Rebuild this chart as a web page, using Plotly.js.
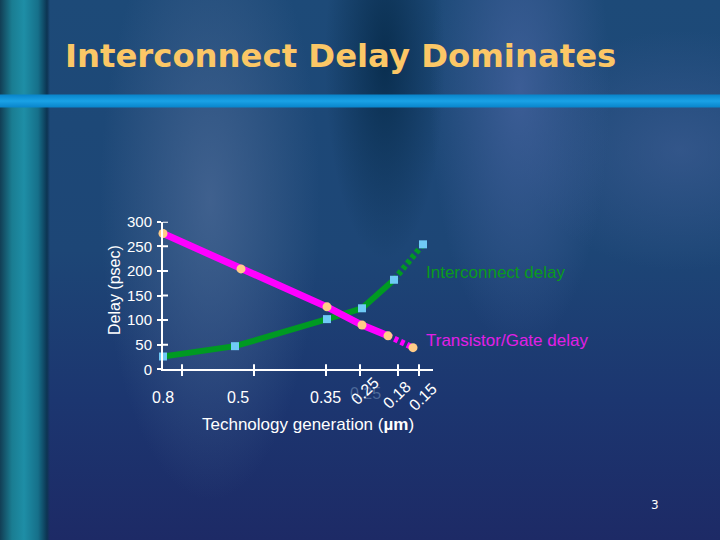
<!DOCTYPE html>
<html>
<head>
<meta charset="utf-8">
<script src="https://cdn.plot.ly/plotly-3.0.1.min.js"></script>
<style>
html, body { margin:0; padding:0; width:720px; height:540px; overflow:hidden; }
body {
  background:
    linear-gradient(to bottom, rgba(0,0,0,0) 94px, #0a86cc 95px, #1aa2e6 101px, #0a86cc 107px, rgba(0,0,0,0) 108px),
    linear-gradient(to right, #123e55 0px, #1a7d92 12px, #1e8ea6 24px, #16708a 38px, #0c3452 47px, rgba(0,0,0,0) 50px),
    radial-gradient(ellipse 90px 260px at 520px 90px, rgba(70,100,160,0.75), rgba(70,100,160,0)),
    radial-gradient(ellipse 110px 300px at 210px 200px, rgba(75,105,150,0.75), rgba(75,105,150,0)),
    radial-gradient(ellipse 60px 200px at 385px 60px, rgba(5,40,70,0.8), rgba(5,40,70,0)),
    radial-gradient(ellipse 160px 120px at 680px 150px, rgba(65,95,150,0.6), rgba(65,95,150,0)),
    linear-gradient(to bottom, #1d4a78 0px, #1d4676 250px, #1c3670 400px, #1d2a66 540px);
  background-repeat: no-repeat;
}
#chart { width:720px; height:540px; }
</style>
</head>
<body>
<div id="chart"></div>
<script>
// ---- data ----
var nodeLabels = ['0.8', '0.5', '0.35', '0.25', '0.18', '0.15'];
// relative positions of each technology generation along the drawn axis (arbitrary units)
var labelPos = [0, 75, 162, 201, 233, 259];
var tickPos = [19, 91, 163, 197, 235, 256];
var interconnectPos = [0, 72, 164, 199, 231, 260];
var gatePos = [0, 78, 164, 199, 225, 250];
var interconnectDelay = [26, 47, 102, 124, 182, 254];
var gateDelay = [276, 204, 127, 90, 68, 44];
var yTicks = [0, 50, 100, 150, 200, 250, 300];

var W = 720, H = 540;
function px(x) { return x / W; }
function py(y) { return 1 - y / H; }

var GREEN = '#009a22', MAGENTA = '#ff00ff', SQ = '#6fcaf6', CIRC = '#ffcc88';
var dotted = '4px,3px';

var traces = [
  {x: interconnectPos.slice(0, 5), y: interconnectDelay.slice(0, 5), mode: 'lines',
   line: {color: GREEN, width: 6}, cliponaxis: false, hoverinfo: 'skip'},
  {x: interconnectPos.slice(4), y: interconnectDelay.slice(4), mode: 'lines',
   line: {color: GREEN, width: 6, dash: dotted}, cliponaxis: false, hoverinfo: 'skip'},
  {x: gatePos.slice(0, 5), y: gateDelay.slice(0, 5), mode: 'lines',
   line: {color: MAGENTA, width: 7}, cliponaxis: false, hoverinfo: 'skip'},
  {x: gatePos.slice(4), y: gateDelay.slice(4), mode: 'lines',
   line: {color: MAGENTA, width: 6, dash: dotted}, cliponaxis: false, hoverinfo: 'skip'},
  {x: interconnectPos, y: interconnectDelay, mode: 'markers',
   marker: {symbol: 'square', size: 8, color: SQ}, cliponaxis: false},
  {x: gatePos, y: gateDelay, mode: 'markers',
   marker: {symbol: 'circle', size: 9, color: CIRC}, cliponaxis: false}
];

var AF = 'Liberation Sans, Arial, sans-serif';
var axFont = {family: AF, size: 15, color: '#ffffff'};
var xDom = [px(163), px(433)];
var yDom = [py(369.3), py(221.7)];

var annotations = [
  {text: 'Interconnect Delay Dominates', x: px(63), y: py(56), xref: 'paper', yref: 'paper',
   xanchor: 'left', yanchor: 'middle', showarrow: false,
   font: {family: 'DejaVu Sans, sans-serif', size: 32.3, color: '#fbc766', weight: 'bold'}},
  {text: 'Delay (psec)', x: px(114), y: py(290), xref: 'paper', yref: 'paper', textangle: -90,
   xanchor: 'center', yanchor: 'middle', showarrow: false,
   font: {family: AF, size: 16, color: '#ffffff'}},
  {text: 'Technology generation (<b>µm</b>)', x: px(308), y: py(424), xref: 'paper', yref: 'paper',
   xanchor: 'center', yanchor: 'middle', showarrow: false,
   font: {family: AF, size: 17, color: '#ffffff'}},
  {text: 'Interconnect delay', x: px(424), y: py(272), xref: 'paper', yref: 'paper',
   xanchor: 'left', yanchor: 'middle', showarrow: false,
   font: {family: AF, size: 17, color: '#0a9a1c'}},
  {text: 'Transistor/Gate delay', x: px(424), y: py(340), xref: 'paper', yref: 'paper',
   xanchor: 'left', yanchor: 'middle', showarrow: false,
   font: {family: AF, size: 17, color: '#e21ee6'}},
  {text: '0.25', x: px(365), y: py(393), xref: 'paper', yref: 'paper',
   xanchor: 'center', yanchor: 'middle', showarrow: false,
   font: {family: AF, size: 16, color: 'rgba(120,150,190,0.55)'}},
  {text: '3', x: px(655), y: py(505), xref: 'paper', yref: 'paper',
   xanchor: 'center', yanchor: 'middle', showarrow: false,
   font: {family: 'DejaVu Sans, sans-serif', size: 12, color: '#ffffff'}}
];
// x tick labels
var labelY = [397, 397, 397, 391, 395, 397];
for (var i = 0; i < nodeLabels.length; i++) {
  annotations.push({
    text: nodeLabels[i], x: labelPos[i], y: py(labelY[i]), xref: 'x', yref: 'paper',
    xanchor: 'center', yanchor: 'middle', showarrow: false, textangle: i >= 3 ? -44 : 0,
    font: {family: AF, size: 16, color: '#ffffff'}
  });
}

// cross-shaped tick marks (the axes draw the outer halves; these add the inner halves)
var shapes = [];
tickPos.forEach(function (t) {
  shapes.push({type: 'line', xref: 'x', x0: t, x1: t, yref: 'y', ysizemode: 'pixel', yanchor: 0,
    y0: 0, y1: 5, line: {color: '#ffffff', width: 2}});
});
yTicks.slice(1).forEach(function (t) {
  shapes.push({type: 'line', yref: 'y', y0: t, y1: t, xref: 'x', xsizemode: 'pixel', xanchor: 0,
    x0: 0, x1: 5, line: {color: '#ffffff', width: 2}});
});

var layout = {
  width: W, height: H,
  margin: {l: 0, r: 0, t: 0, b: 0, pad: 0},
  paper_bgcolor: 'rgba(0,0,0,0)', plot_bgcolor: 'rgba(0,0,0,0)',
  showlegend: false,
  xaxis: {domain: xDom, range: [0, 270], showline: true, linecolor: '#ffffff', linewidth: 2,
    ticks: 'outside', ticklen: 5, tickwidth: 2, tickcolor: '#ffffff', tickvals: tickPos,
    showticklabels: false, showgrid: false, zeroline: false, fixedrange: true},
  yaxis: {domain: yDom, range: [0, 300], showline: true, linecolor: '#ffffff', linewidth: 2,
    ticks: 'outside', ticklen: 4, tickwidth: 2, tickcolor: '#ffffff', tickvals: yTicks,
    ticktext: yTicks.map(String), tickfont: axFont, ticklabelstandoff: 2,
    showgrid: false, zeroline: false, fixedrange: true},
  shapes: shapes,
  annotations: annotations
};

Plotly.newPlot('chart', traces, layout, {staticPlot: true, displayModeBar: false});
</script>
</body>
</html>
